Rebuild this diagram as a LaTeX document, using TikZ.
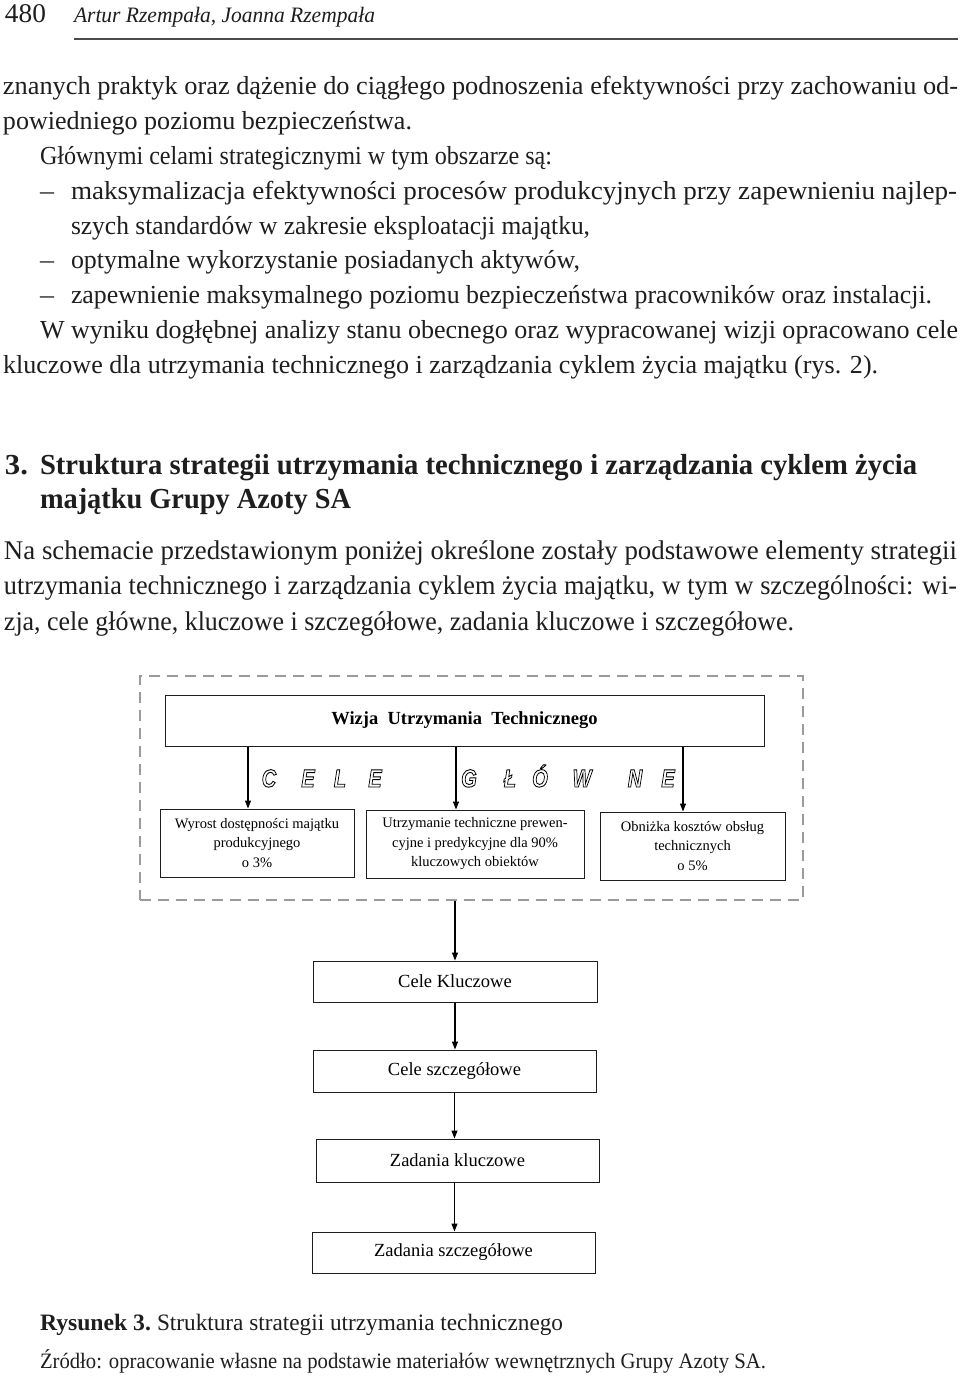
\documentclass[tikz,border=0pt]{standalone}
\usepackage{fontspec}
\setmainfont{Liberation Serif}
\newfontfamily\outlfont{Liberation Sans}
\usepackage{graphicx}
\usetikzlibrary{arrows.meta}
\definecolor{dashgray}{RGB}{155,155,155}
\definecolor{ink}{RGB}{30,30,30}
\newcommand\tline[6]{\node[tl,#1] (#2) at (#3,#4) {\resizebox{#5pt}{\height}{#6}};}
\newcommand\hollow[1]{\special{pdf:literal direct 1 Tr 0.9 w}#1\special{pdf:literal direct 0 Tr}}
\begin{document}
\begin{tikzpicture}[x=1pt,y=-1pt,
  tl/.style={anchor=base west, inner sep=0pt, outer sep=0pt, text=ink},
  hd/.style={font=\fontsize{27}{30}\selectfont},
  hdi/.style={font=\fontsize{22}{26}\selectfont\itshape},
  body/.style={font=\fontsize{26}{30}\selectfont},
  head/.style={font=\fontsize{29}{33}\selectfont\bfseries},
  para/.style={font=\fontsize{27}{31}\selectfont},
  capb/.style={font=\fontsize{23.5}{27}\selectfont\bfseries},
  capn/.style={font=\fontsize{23.5}{27}\selectfont},
  src/.style={font=\fontsize{22}{26}\selectfont},
  box/.style={draw=ink, line width=1pt, inner sep=2pt, align=center, text=black},
  small/.style={font=\fontsize{14.5}{19.5}\selectfont},
  mid/.style={font=\fontsize{18.5}{22}\selectfont},
  midb/.style={font=\fontsize{18.5}{22}\selectfont\bfseries},
  arr/.style={-{Triangle[length=8pt,width=6pt]}, line width=1.1pt, draw=black},
  frame/.style={draw=dashgray, line width=2.2pt, dash pattern=on 11pt off 7pt},
  letter/.style={anchor=base, inner sep=0pt, font=\outlfont\fontsize{25}{25}\selectfont\bfseries\itshape}
]
\useasboundingbox (0,0) rectangle (960,1378);
\fill[white] (0,0) rectangle (960,1378);

% header
\tline{hd}{h1}{5}{23}{41}{480}
\tline{hdi}{h2}{74}{23}{301}{Artur Rzempała, Joanna Rzempała}
\coordinate (ra) at (74,39);
\coordinate (rb) at (958,39);
\draw[ink!80, line width=1.2pt] (ra) -- (rb);

% body
\tline{body}{l1}{3}{95}{955}{znanych praktyk oraz dążenie do ciągłego podnoszenia efektywności przy zachowaniu od-}
\tline{body}{l2}{3}{129.75}{409}{powiedniego poziomu bezpieczeństwa.}
\tline{body}{l3}{40}{164.5}{512}{Głównymi celami strategicznymi w tym obszarze są:}
\tline{body}{d4}{40}{199.25}{14}{–}
\tline{body}{l4}{71}{199.25}{886}{maksymalizacja efektywności procesów produkcyjnych przy zapewnieniu najlep-}
\tline{body}{l5}{71}{234}{519}{szych standardów w zakresie eksploatacji majątku,}
\tline{body}{d6}{40}{268.75}{14}{–}
\tline{body}{l6}{71}{268.75}{509}{optymalne wykorzystanie posiadanych aktywów,}
\tline{body}{d7}{40}{303.5}{14}{–}
\tline{body}{l7}{71}{303.5}{861}{zapewnienie maksymalnego poziomu bezpieczeństwa pracowników oraz instalacji.}
\tline{body}{l8}{40}{338.25}{918}{W wyniku dogłębnej analizy stanu obecnego oraz wypracowanej wizji opracowano cele}
\tline{body}{l9}{3}{373}{875}{kluczowe dla utrzymania technicznego i zarządzania cyklem życia majątku (rys. 2).}

% heading
\tline{head}{s0}{5}{474}{23}{3.}
\tline{head}{s1}{40}{474}{877}{Struktura strategii utrzymania technicznego i zarządzania cyklem życia}
\tline{head}{s2}{40}{508}{311}{majątku Grupy Azoty SA}

% paragraph
\tline{para}{p1}{4}{559}{953}{Na schemacie przedstawionym poniżej określone zostały podstawowe elementy strategii}
\tline{para}{p2}{4}{594.5}{953}{utrzymania technicznego i zarządzania cyklem życia majątku, w tym w szczególności: wi-}
\tline{para}{p3}{4}{630}{790}{zja, cele główne, kluczowe i szczegółowe, zadania kluczowe i szczegółowe.}

% diagram
\node[frame, minimum width=663pt, minimum height=224pt] (F) at (471.5,788) {};
\node[box, midb, minimum width=599pt, minimum height=51pt] (W) at (464.5,720.5) {Wizja\ \ Utrzymania\ \ Technicznego};
\node[box, small, minimum width=194pt, minimum height=68pt] (B1) at (257,843) {Wyrost dostępności majątku\\produkcyjnego\\o 3\%};
\node[box, small, minimum width=218pt, minimum height=68pt] (B2) at (475,844) {Utrzymanie techniczne prewen-\\cyjne i predykcyjne dla 90\%\\kluczowych obiektów};
\node[box, small, minimum width=185pt, minimum height=68pt] (B3) at (692.5,846) {Obniżka kosztów obsług\\technicznych\\o 5\%};

\draw[arr] ([xshift=-9pt]B1.north |- W.south) -- ([xshift=-9pt]B1.north);
\draw[arr] ([xshift=-19pt]B2.north |- W.south) -- ([xshift=-19pt]B2.north);
\draw[arr] ([xshift=-9.5pt]B3.north |- W.south) -- ([xshift=-9.5pt]B3.north);

\foreach \l/\x [count=\i] in {C/269, E/308, L/340, E/375, G/469, Ł/510, Ó/540, W/582, N/635, E/668}
  \node[letter] (g\i) at (\x,787) {\scalebox{0.8}[1]{\hollow{\l}}};

\node[box, mid, minimum width=284pt, minimum height=41pt] (CK) at (455,981.5) {Cele Kluczowe};
\node[box, mid, minimum width=283pt, minimum height=42pt] (CS) at (454.5,1071) {Cele szczegółowe};
\node[box, mid, minimum width=283pt, minimum height=43pt] (ZK) at (457.5,1160.5) {Zadania kluczowe};
\node[box, mid, minimum width=283pt, minimum height=41pt] (ZS) at (453.5,1252.5) {Zadania szczegółowe};

\draw[arr] (F.south -| CK.north) -- (CK.north);
\draw[arr] (CK.south) -- (CK.south |- CS.north);
\draw[arr] (CS.south) -- (CS.south |- ZK.north);
\draw[arr] (CS.south |- ZK.south) -- (CS.south |- ZS.north);

% caption
\tline{capb}{c1}{40}{1330}{111}{Rysunek 3.}
\tline{capn}{c2}{157}{1330}{406}{Struktura strategii utrzymania technicznego}
\tline{src}{c3}{40}{1368}{726}{Źródło: opracowanie własne na podstawie materiałów wewnętrznych Grupy Azoty SA.}
\end{tikzpicture}
\end{document}
